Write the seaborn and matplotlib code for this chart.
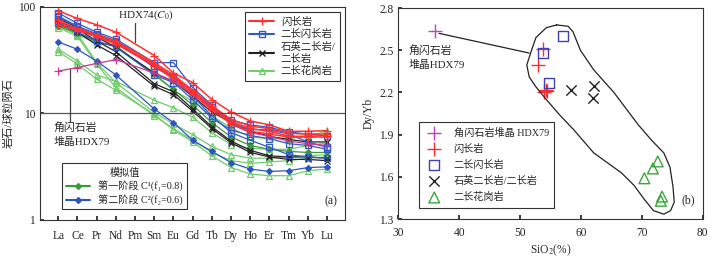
import numpy as np
import pandas as pd
import matplotlib
matplotlib.use("Agg")
import matplotlib.pyplot as plt
from matplotlib.lines import Line2D
import seaborn as sns

# ---- (a) REE patterns ----
elements = ["La", "Ce", "Pr", "Nd", "Pm", "Sm", "Eu", "Gd", "Tb", "Dy", "Ho", "Er", "Tm", "Yb", "Lu"]
measured = ["La", "Ce", "Pr", "Nd", "Sm", "Eu", "Gd", "Tb", "Dy", "Ho", "Er", "Tm", "Yb", "Lu"]

diorite = [
    [92, 78, 68, 58, 35, 24, 19.5, 13.5, 10.3, 8.5, 7.8, 6.8, 6.8, 6.9],
    [72, 63, 55, 48, 30, 23, 16.5, 11.8, 8.8, 7.6, 7.2, 6.5, 6.4, 6.4],
    [68, 60, 53, 46, 29, 22, 16.0, 11.2, 8.4, 7.2, 6.8, 6.1, 6.1, 6.2],
    [75, 62, 52, 45, 28, 21, 15.2, 10.8, 8.0, 6.8, 6.4, 6.0, 6.0, 6.0],
]
monzodiorite = [
    [88, 70, 58, 50, 30, 30, 17.5, 12.0, 8.0, 7.1, 7.0, 6.4, 5.4, 4.8],
    [80, 65, 54, 47, 28, 22.5, 14.5, 9.5, 6.6, 5.6, 4.8, 4.1, 3.9, 3.8],
    [74, 58, 48, 42, 23, 19.5, 13.5, 9.0, 7.0, 6.2, 5.8, 5.2, 5.0, 4.6],
    [82, 66, 56, 48, 27, 22, 16.0, 11.5, 8.6, 7.8, 7.4, 6.7, 6.4, 6.2],
]
monzonite = [
    [72, 62, 48, 38, 19, 16, 11.0, 7.5, 5.5, 4.5, 4.0, 3.9, 3.9, 3.8],
    [70, 58, 44, 35, 18, 15, 10.5, 7.2, 5.3, 4.3, 3.9, 3.7, 3.7, 3.6],
    [78, 64, 52, 42, 24, 20, 14.5, 10.3, 8.2, 6.8, 6.1, 5.7, 5.4, 5.4],
]
granite = [
    [68, 56, 30, 19.5, 10.2, 8.0, 6.3, 4.9, 4.1, 3.8, 3.8, 3.9, 4.0, 4.1],
    [64, 53, 29, 17.5, 9.5, 7.2, 5.6, 4.3, 3.6, 3.4, 3.5, 3.6, 3.8, 3.9],
    [40, 31, 23, 20, 13.3, 11.3, 9.2, 6.6, 5.1, 4.7, 4.6, 4.6, 5.0, 5.3],
    [38, 29, 21, 16.5, 9.8, 7.0, 5.4, 4.0, 3.1, 2.7, 2.6, 2.6, 2.9, 3.0],
    [66, 55, 46, 43, 23, 16.5, 13.0, 9.5, 7.3, 6.0, 5.8, 5.8, 6.2, 6.8],
]
hdx79 = [25, 27, 29.5, 32, 24, 20, 15, 11.2, 7.9, 6.6, 6.1, 5.5, 5.2, 5.0]
model_c1 = [66, 57, 47, 43, 23.4, 16.8, 12, 8.2, 6.0, 5.0, 4.6, 4.4, 4.3, 4.3]
model_c2 = [47, 40, 31, 23, 11, 8.2, 5.6, 4.4, 3.45, 3.0, 2.85, 2.9, 3.1, 3.15]

# ---- (b) Dy/Yb vs SiO2 ----
hdx79_sio2 = [36.0]
hdx79_dyyb = [2.64]
diorite_sio2 = [53.8, 53.0, 54.2, 54.4, 54.0]
diorite_dyyb = [2.51, 2.395, 2.22, 2.21, 2.20]
monzodiorite_sio2 = [53.8, 57.0, 54.7]
monzodiorite_dyyb = [2.48, 2.60, 2.27]
monzonite_sio2 = [58.4, 62.1, 61.9]
monzonite_dyyb = [2.22, 2.245, 2.16]
granite_sio2 = [70.4, 71.8, 72.6, 73.3, 73.1]
granite_dyyb = [1.59, 1.66, 1.71, 1.46, 1.43]

outline_sio2 = [56.0, 57.9, 58.7, 59.9, 62.1, 65.4, 69.4, 71.6, 73.6, 74.6, 75.1, 75.3, 74.7,
                73.6, 71.9, 70.4, 68.7, 66.6, 62.1, 58.7, 56.5, 54.3, 52.6, 51.5, 51.1, 51.8,
                52.6, 54.3, 56.0]
outline_dyyb = [2.68, 2.67, 2.63, 2.50, 2.36, 2.20, 1.97, 1.86, 1.77, 1.67, 1.53, 1.42, 1.36,
                1.335, 1.36, 1.44, 1.54, 1.63, 1.77, 1.94, 2.04, 2.15, 2.24, 2.31, 2.395, 2.49,
                2.59, 2.66, 2.68]

sns.set_theme(style="ticks")
plt.rcParams["font.family"] = ["Liberation Serif", "Noto Sans CJK SC", "DejaVu Sans"]
plt.rcParams["mathtext.fontset"] = "stix"
plt.rcParams["font.size"] = 8
plt.rcParams["xtick.direction"] = "in"
plt.rcParams["ytick.direction"] = "in"
plt.rcParams["axes.linewidth"] = 0.8
plt.rcParams["axes.edgecolor"] = "#333333"

fig = plt.figure(figsize=(7.15, 2.59), dpi=100)
ax1 = fig.add_axes([0.056, 0.151, 0.427, 0.822])
ax2 = fig.add_axes([0.557, 0.154, 0.426, 0.815])

xpos = [elements.index(e) for e in measured]

RED = "#ff3030"
BLUE = "#3358c8"
BLACK = "#222222"
GREEN = "#70cc6a"
MAG = "#c8388f"
C1_GREEN = "#3a9a3a"
C2_BLUE = "#2d55c0"


def draw_group(ax, rows, color, marker, lw=0.9, ms=4, fill=False):
    for row in rows:
        df = pd.DataFrame({"x": xpos, "y": row})
        sns.lineplot(data=df, x="x", y="y", ax=ax, color=color, lw=lw, marker=marker,
                     markersize=ms, markeredgecolor=color,
                     markerfacecolor=color if fill else "none", markeredgewidth=0.9)


draw_group(ax1, granite, GREEN, "^", ms=4.5)
draw_group(ax1, [model_c1], C1_GREEN, "D", ms=3, fill=True)
draw_group(ax1, [model_c2], C2_BLUE, "D", ms=3, fill=True)
draw_group(ax1, monzonite, BLACK, "x", ms=4.5)
draw_group(ax1, monzodiorite, BLUE, "s", ms=4.5)
draw_group(ax1, [hdx79], MAG, "+", ms=6)
draw_group(ax1, diorite, RED, "+", lw=1.1, ms=6)

ax1.set_yscale("log")
ax1.set_ylim(1, 100)
ax1.set_xlim(-0.95, 14.95)
ax1.axhline(10, color="#555555", lw=0.9)
ax1.set_xticks(range(len(elements)))
ax1.set_xticklabels(elements)
ax1.set_yticks([1, 10, 100])
ax1.set_yticklabels(["1", "10", "100"])
ax1.yaxis.set_minor_locator(matplotlib.ticker.NullLocator())
ax1.set_xlabel("")
ax1.set_ylabel("岩石/球粒陨石", labelpad=3, fontsize=8)
ax1.tick_params(axis="x", pad=7, length=3, labelsize=8.3)
ax1.tick_params(axis="y", length=3, labelsize=8.3)
ax1.text(0.975, 0.06, "(a)", transform=ax1.transAxes, ha="right", va="bottom", fontsize=8.5)

# annotations
ax1.text(3.1, 84, "HDX74($C_0$)", fontsize=8, ha="left", va="center")
ax1.plot([4.0, 4.0], [71, 47], color="#444444", lw=0.9)
ax1.text(-0.25, 8.3, "角闪石岩\n堆晶HDX79", fontsize=7.8, ha="left", va="top", linespacing=1.5)
ax1.plot([0.6, 0.6], [26, 8.3], color="#444444", lw=0.9)

h_main = [
    Line2D([], [], color=RED, marker="+", markersize=6, label="闪长岩"),
    Line2D([], [], color=BLUE, marker="s", markersize=4, markerfacecolor="none", label="二长闪长岩"),
    Line2D([], [], color=BLACK, marker="x", markersize=4, label="石英二长岩/\n二长岩"),
    Line2D([], [], color=GREEN, marker="^", markersize=4, markerfacecolor="none", label="二长花岗岩"),
]
leg1 = ax1.legend(handles=h_main, loc="upper right", bbox_to_anchor=(1.0, 1.0), fancybox=False,
                  edgecolor="#333333", framealpha=1, fontsize=7.5, handlelength=2.4,
                  borderpad=0.45, labelspacing=0.25, handletextpad=0.6)
leg1.get_frame().set_linewidth(0.8)
ax1.add_artist(leg1)

h_model = [
    Line2D([], [], color=C1_GREEN, marker="D", markersize=3, label="第一阶段 C¹(f₁=0.8)"),
    Line2D([], [], color=C2_BLUE, marker="D", markersize=3, label="第二阶段 C²(f₂=0.6)"),
]
leg2 = ax1.legend(handles=h_model, loc="lower left", bbox_to_anchor=(0.055, 0.025), fancybox=False,
                  edgecolor="#333333", framealpha=1, fontsize=7.3, title="模拟值",
                  title_fontsize=7.3, handlelength=2.4, labelspacing=0.3, borderpad=0.4)
leg2.get_frame().set_linewidth(0.8)

# ---- (b) ----
ax2.plot(outline_sio2, outline_dyyb, color="#222222", lw=0.9)
ax2.plot([36.7, 51.5], [2.62, 2.48], color="#222222", lw=0.9)

sns.scatterplot(x=hdx79_sio2, y=hdx79_dyyb, ax=ax2, marker="+", s=90, color="#c040c0",
                linewidth=1.0, label="角闪石岩堆晶 HDX79")
sns.scatterplot(x=diorite_sio2, y=diorite_dyyb, ax=ax2, marker="+", s=90, color="#ff2a2a",
                linewidth=1.0, label="闪长岩")
sns.scatterplot(x=monzodiorite_sio2, y=monzodiorite_dyyb, ax=ax2, marker="s", s=50,
                facecolor="none", edgecolor="#4040b0", linewidth=1.0, label="二长闪长岩")
sns.scatterplot(x=monzonite_sio2, y=monzonite_dyyb, ax=ax2, marker="x", s=55, color="#222222",
                linewidth=1.0, label="石英二长岩/二长岩")
sns.scatterplot(x=granite_sio2, y=granite_dyyb, ax=ax2, marker="^", s=60, facecolor="none",
                edgecolor="#3aa63a", linewidth=1.0, label="二长花岗岩")

ax2.text(31.7, 2.54, "角闪石岩\n堆晶HDX79", fontsize=7.8, ha="left", va="top", linespacing=1.5)
ax2.set_xlim(30, 80)
ax2.set_ylim(1.3, 2.8)
ax2.set_xticks([30, 40, 50, 60, 70, 80])
ax2.set_yticks([1.3, 1.6, 1.9, 2.2, 2.5, 2.8])
ax2.set_xlabel("SiO$_2$(%)", labelpad=2, fontsize=8.3)
ax2.set_ylabel("Dy/Yb", labelpad=3, fontsize=8.3)
ax2.tick_params(axis="x", pad=6, length=3, labelsize=8.3)
ax2.tick_params(axis="y", length=3, labelsize=8.3)
ax2.text(0.975, 0.06, "(b)", transform=ax2.transAxes, ha="right", va="bottom", fontsize=8.5)
leg3 = ax2.legend(loc="lower left", bbox_to_anchor=(0.05, 0.03), fancybox=False,
                  edgecolor="#333333", framealpha=1, fontsize=7.3, handletextpad=0.9,
                  labelspacing=0.6, borderpad=0.55)
leg3.get_frame().set_linewidth(0.8)

fig.savefig("out.png", dpi=100)
